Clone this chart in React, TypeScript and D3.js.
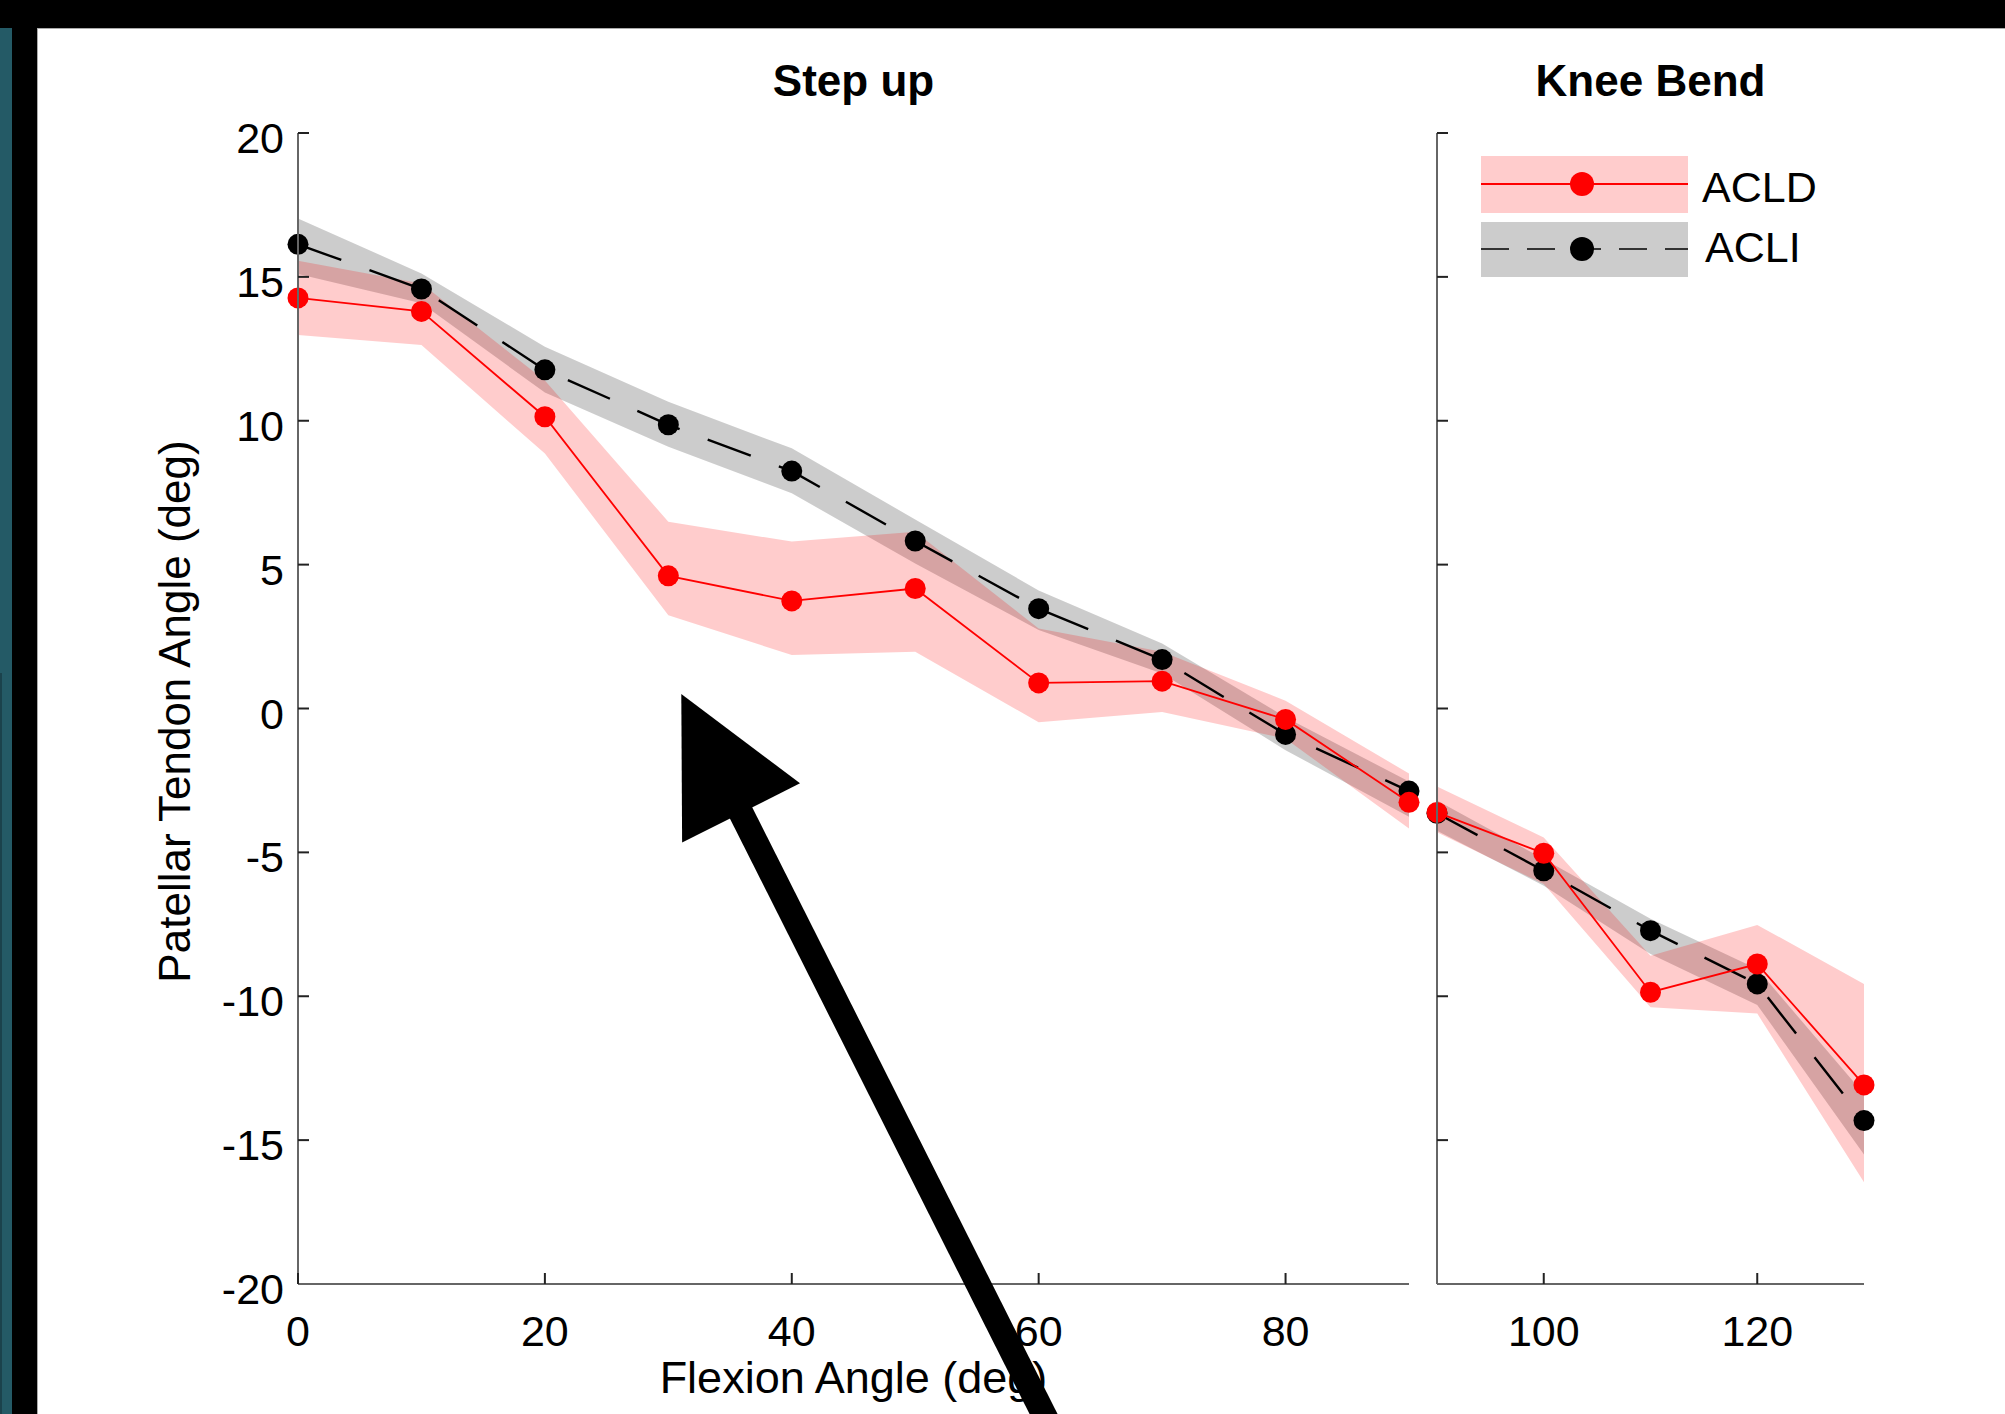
import React from 'react'
import * as d3 from 'd3'

// flexion angles where the means were sampled
const stepAngles = [0, 10, 20, 30, 40, 50, 60, 70, 80, 90]
const kneeAngles = [90, 100, 110, 120, 130]

// Step up - ACLD (red)
const acldStepMean = [14.27, 13.8, 10.14, 4.61, 3.74, 4.17, 0.89, 0.95, -0.38, -3.26]
const acldStepUpper = [15.56, 14.77, 11.4, 6.49, 5.8, 6.14, 2.78, 1.97, 0.27, -2.26]
const acldStepLower = [12.98, 12.63, 8.86, 3.24, 1.86, 1.97, -0.48, -0.12, -1.05, -4.17]

// Step up - ACLI (black)
const acliStepMean = [16.13, 14.58, 11.77, 9.86, 8.25, 5.82, 3.47, 1.7, -0.9, -2.87]
const acliStepUpper = [17.03, 15.12, 12.57, 10.66, 9.04, 6.57, 4.1, 2.26, -0.3, -2.54]
const acliStepLower = [15.1, 14.08, 10.98, 9.1, 7.48, 5.04, 2.73, 1.22, -1.45, -3.76]

// Knee bend - ACLD (red)
const acldKneeMean = [-3.61, -5.03, -9.86, -8.88, -13.08]
const acldKneeUpper = [-2.71, -4.48, -8.59, -7.52, -9.57]
const acldKneeLower = [-4.3, -6.1, -10.38, -10.6, -16.46]

// Knee bend - ACLI (black)
const acliKneeMean = [-3.64, -5.64, -7.72, -9.57, -14.32]
const acliKneeUpper = [-3.2, -5.23, -7.31, -9.05, -13.4]
const acliKneeLower = [-4.25, -6.16, -8.53, -10.3, -15.5]

const yTicks = [-20, -15, -10, -5, 0, 5, 10, 15, 20]
const stepTicks = [0, 20, 40, 60, 80]
const kneeTicks = [100, 120]

// arrow annotation, in step-up data units (tip, tail)
const arrowTip = [31.05, 0.5]
const arrowTail = [61.9, -25.8]

const W = 2005
const H = 1414
const font = '"Liberation Sans", Arial, Helvetica, sans-serif'

const y = d3.scaleLinear().domain([-20, 20]).range([1284, 133])
const xStep = d3.scaleLinear().domain([0, 90]).range([298, 1409])
const xKnee = d3.scaleLinear().domain([90, 130]).range([1437, 1864])

type Scale = d3.ScaleLinear<number, number>

const Band = ({ x, xs, lo, hi, color }: { x: Scale; xs: number[]; lo: number[]; hi: number[]; color: string }) => {
  const area = d3
    .area<number>()
    .x((d) => x(xs[d]))
    .y0((d) => y(lo[d]))
    .y1((d) => y(hi[d]))
  return <path d={area(d3.range(xs.length)) || ''} fill={color} fillOpacity={0.2} stroke="none" />
}

const Mean = ({ x, xs, vals, color, dashed }: { x: Scale; xs: number[]; vals: number[]; color: string; dashed?: boolean }) => {
  const line = d3
    .line<number>()
    .x((d) => x(xs[d]))
    .y((d) => y(vals[d]))
  return (
    <g>
      <path
        d={line(d3.range(xs.length)) || ''}
        fill="none"
        stroke={color}
        strokeWidth={dashed ? 2.4 : 1.8}
        strokeDasharray={dashed ? '46 30' : undefined}
      />
      {xs.map((a, i) => (
        <circle key={i} cx={x(a)} cy={y(vals[i])} r={10.5} fill={color} />
      ))}
    </g>
  )
}

const YAxis = ({ x0, labels }: { x0: number; labels: boolean }) => (
  <g>
    <line x1={x0} x2={x0} y1={y(20)} y2={y(-20)} stroke="#666" strokeWidth={2} />
    {yTicks.map((t) => (
      <g key={t}>
        <line x1={x0} x2={x0 + 11} y1={y(t)} y2={y(t)} stroke="#222" strokeWidth={2} />
        {labels && (
          <text x={x0 - 14} y={y(t) + 20} textAnchor="end" fontSize={43} fontFamily={font} fill="#000">
            {String(t)}
          </text>
        )}
      </g>
    ))}
  </g>
)

const XAxis = ({ x, ticks }: { x: Scale; ticks: number[] }) => {
  const [r0, r1] = x.range()
  return (
    <g>
      <line x1={r0} x2={r1} y1={y(-20)} y2={y(-20)} stroke="#666" strokeWidth={2} />
      {ticks.map((t) => (
        <g key={t}>
          <line x1={x(t)} x2={x(t)} y1={y(-20)} y2={y(-20) - 11} stroke="#222" strokeWidth={2} />
          <text x={x(t)} y={1346} textAnchor="middle" fontSize={43} fontFamily={font} fill="#000">
            {t}
          </text>
        </g>
      ))}
    </g>
  )
}

const Arrow = () => {
  const tx = xStep(arrowTip[0])
  const ty = y(arrowTip[1])
  const ex = xStep(arrowTail[0])
  const ey = y(arrowTail[1])
  const len = Math.hypot(ex - tx, ey - ty)
  const ux = (ex - tx) / len
  const uy = (ey - ty) / len
  const px = -uy
  const py = ux
  const headLen = 133
  const headHalf = 66
  const bx = tx + ux * headLen
  const by = ty + uy * headLen
  const head = `M${tx},${ty}L${bx + px * headHalf},${by + py * headHalf}L${bx - px * headHalf},${by - py * headHalf}Z`
  return (
    <g>
      <line x1={bx - ux * 4} y1={by - uy * 4} x2={ex} y2={ey} stroke="#000" strokeWidth={25} />
      <path d={head} fill="#000" />
    </g>
  )
}

const App = () => {
  return (
    <svg
      width={W}
      height={H}
      viewBox={`0 0 ${W} ${H}`}
      style={{ position: 'absolute', left: 0, top: 0, background: '#fff' }}
    >
      <rect x={0} y={0} width={W} height={H} fill="#fff" />

      {/* screenshot frame */}
      <rect x={0} y={0} width={12} height={H} fill="#245a66" />
      <rect x={0} y={673} width={2} height={H - 673} fill="#1b424c" />
      <rect x={12} y={0} width={25} height={H} fill="#000" />
      <rect x={0} y={0} width={W} height={28} fill="#000" />
      <line x1={37.5} x2={37.5} y1={28} y2={H} stroke="#aaa" strokeWidth={1} />
      <line x1={37} x2={W} y1={28.5} y2={28.5} stroke="#aaa" strokeWidth={1} />

      {/* Step up panel */}
      <Band x={xStep} xs={stepAngles} lo={acliStepLower} hi={acliStepUpper} color="#000" />
      <Band x={xStep} xs={stepAngles} lo={acldStepLower} hi={acldStepUpper} color="#ff0000" />
      <Mean x={xStep} xs={stepAngles} vals={acliStepMean} color="#000" dashed />
      <Mean x={xStep} xs={stepAngles} vals={acldStepMean} color="#ff0000" />
      <YAxis x0={xStep(0)} labels />
      <XAxis x={xStep} ticks={stepTicks} />

      {/* Knee bend panel */}
      <Band x={xKnee} xs={kneeAngles} lo={acliKneeLower} hi={acliKneeUpper} color="#000" />
      <Band x={xKnee} xs={kneeAngles} lo={acldKneeLower} hi={acldKneeUpper} color="#ff0000" />
      <Mean x={xKnee} xs={kneeAngles} vals={acliKneeMean} color="#000" dashed />
      <Mean x={xKnee} xs={kneeAngles} vals={acldKneeMean} color="#ff0000" />
      <YAxis x0={xKnee(90)} labels={false} />
      <XAxis x={xKnee} ticks={kneeTicks} />

      {/* titles and labels */}
      <text x={(xStep(0) + xStep(90)) / 2} y={96} textAnchor="middle" fontSize={44} fontWeight="bold" fontFamily={font}>
        Step up
      </text>
      <text x={(xKnee(90) + xKnee(130)) / 2} y={96} textAnchor="middle" fontSize={44} fontWeight="bold" fontFamily={font}>
        Knee Bend
      </text>
      <text x={(xStep(0) + xStep(90)) / 2} y={1393} textAnchor="middle" fontSize={45} fontFamily={font}>
        Flexion Angle (deg)
      </text>
      <text
        transform={`translate(190, ${(y(20) + y(-20)) / 2 + 3}) rotate(-90)`}
        textAnchor="middle"
        fontSize={44}
        fontFamily={font}
      >
        Patellar Tendon Angle (deg)
      </text>

      {/* legend */}
      <g>
        <rect x={1481} y={156} width={207} height={57} fill="#ff0000" fillOpacity={0.2} />
        <line x1={1481} x2={1688} y1={184} y2={184} stroke="#ff0000" strokeWidth={1.8} />
        <circle cx={1582} cy={184} r={12} fill="#ff0000" />
        <text x={1702} y={202} fontSize={43} fontFamily={font}>
          ACLD
        </text>
        <rect x={1481} y={222} width={207} height={55} fill="#000" fillOpacity={0.2} />
        <line x1={1481} x2={1688} y1={249} y2={249} stroke="#333" strokeWidth={2} strokeDasharray="28 18" />
        <circle cx={1582} cy={249} r={12} fill="#000" />
        <text x={1705} y={262} fontSize={43} fontFamily={font}>
          ACLI
        </text>
      </g>

      <Arrow />
    </svg>
  )
}

export default App
